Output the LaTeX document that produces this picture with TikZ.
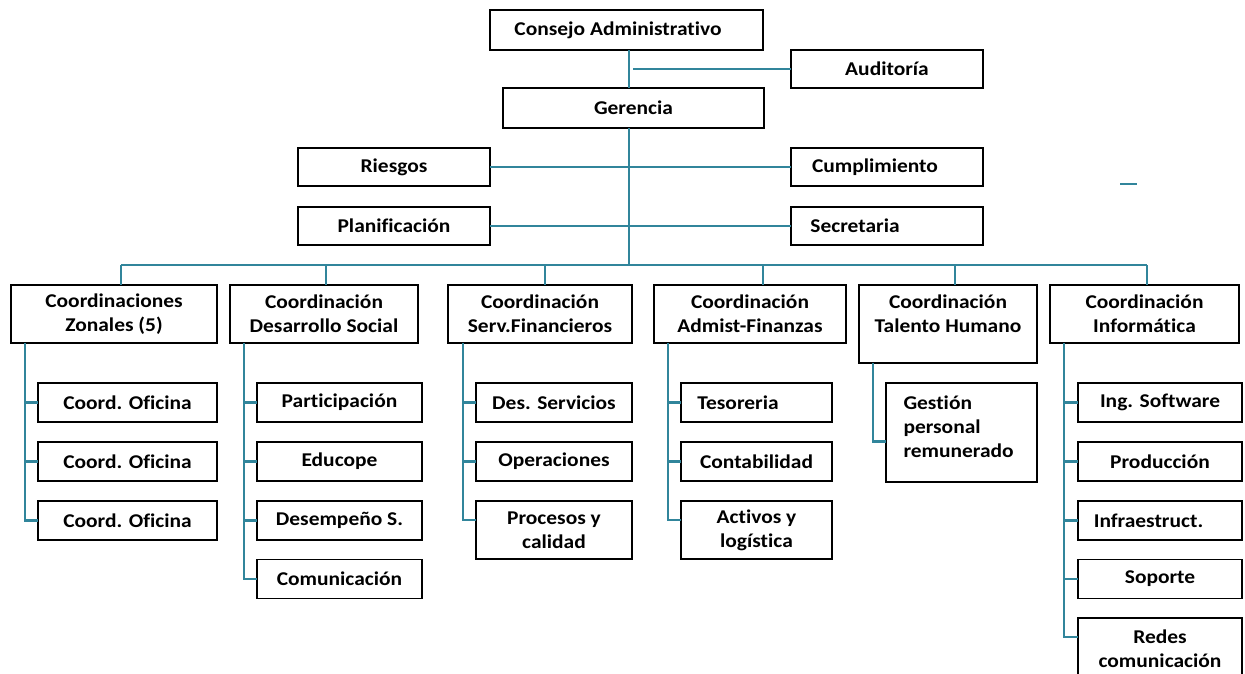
\documentclass[tikz,border=0pt]{standalone}
\usepackage{fontspec}
\setmainfont{Carlito}[Ligatures=NoCommon, FakeStretch=1.1]
\definecolor{lineblue}{RGB}{49,133,155}
\begin{document}
\begin{tikzpicture}[x=1pt,y=-1pt,
  box/.style={draw=black, line width=1.6pt, rectangle, inner sep=0pt, outer sep=0pt,
    font=\bfseries\fontsize{19.5}{24}\selectfont, align=center},
  conn/.style={draw=lineblue, line width=2.2pt},
]
\useasboundingbox (0,0) rectangle (1245,673);
% top levels
\node[box, minimum width=273pt, minimum height=40pt] (consejo) at (626.5,30) {Consejo Administrativo\hspace*{17pt}};
\node[box, minimum width=192pt, minimum height=38pt] (audit) at (887,69) {Auditoría};
\node[box, minimum width=261pt, minimum height=40pt] (geren) at (633.5,108) {Gerencia};
\node[box, minimum width=192pt, minimum height=38pt] (riesgos) at (394,167) {Riesgos};
\node[box, minimum width=192pt, minimum height=38pt] (cumpl) at (887,167) {Cumplimiento\hspace*{24pt}};
\node[box, minimum width=192pt, minimum height=38pt] (plan) at (394,226) {Planificación};
\node[box, minimum width=192pt, minimum height=38pt] (secr) at (887,226) {Secretaria\hspace*{64pt}};
% coordinations
\node[box, minimum width=206pt, minimum height=58pt] (zon) at (114,314) {Coordinaciones\\Zonales (5)};
\node[box, minimum width=188pt, minimum height=58pt] (des) at (324,314) {Coordinación\\Desarrollo Social};
\node[box, minimum width=184pt, minimum height=58pt] (ser) at (540,314) {Coordinación\\Serv.Financieros};
\node[box, minimum width=192pt, minimum height=58pt] (adm) at (750,314) {Coordinación\\Admist-Finanzas};
\node[box, minimum width=178pt, minimum height=78pt, text depth=20pt] (tal) at (948,324) {Coordinación\\Talento Humano};
\node[box, minimum width=189pt, minimum height=58pt] (inf) at (1144.5,314) {Coordinación\\Informática};
% zonal children
\node[box, minimum width=179pt, minimum height=39pt] (z1) at (127.5,402.5) {Coord. Oficina};
\node[box, minimum width=179pt, minimum height=39pt] (z2) at (127.5,461.5) {Coord. Oficina};
\node[box, minimum width=179pt, minimum height=39pt] (z3) at (127.5,520.5) {Coord. Oficina};
% desarrollo children
\node[box, minimum width=165pt, minimum height=39pt] (d1) at (339.5,402.5) {Participación};
\node[box, minimum width=165pt, minimum height=39pt] (d2) at (339.5,461.5) {Educope};
\node[box, minimum width=165pt, minimum height=39pt] (d3) at (339.5,520.5) {Desempeño S.};
\node[box, minimum width=165pt, minimum height=39pt] (d4) at (339.5,579) {Comunicación};
% servicios children
\node[box, minimum width=156pt, minimum height=39pt] (s1) at (554,402.5) {Des. Servicios};
\node[box, minimum width=156pt, minimum height=39pt] (s2) at (554,461.5) {Operaciones};
\node[box, minimum width=156pt, minimum height=58pt] (s3) at (554,530) {Procesos y\\calidad};
% admin children
\node[box, minimum width=151pt, minimum height=39pt] (a1) at (756.5,402.5) {Tesoreria\hspace*{37pt}};
\node[box, minimum width=151pt, minimum height=39pt] (a2) at (756.5,461.5) {Contabilidad};
\node[box, minimum width=151pt, minimum height=58pt] (a3) at (756.5,530) {Activos y\\logística};
% talento child
\node[box, minimum width=151pt, minimum height=99pt, text width=116pt, align=left] (t1) at (961.5,432.5) {Gestión\\personal\\remunerado\\[-12pt]\mbox{}};
% informatica children
\node[box, minimum width=164pt, minimum height=39pt] (i1) at (1160,402.5) {Ing. Software};
\node[box, minimum width=164pt, minimum height=39pt] (i2) at (1160,461.5) {Producción};
\node[box, minimum width=164pt, minimum height=39pt] (i3) at (1160,520.5) {Infraestruct.\hspace*{23pt}};
\node[box, minimum width=164pt, minimum height=39pt] (i4) at (1160,579) {Soporte};
\node[box, minimum width=164pt, minimum height=62pt] (i5) at (1160,649) {Redes\\comunicación};
% connectors
\coordinate (trunk) at (629,265);
\draw[conn] (consejo.south -| trunk) -- (geren.north -| trunk);
\draw[conn] ([xshift=4pt]trunk |- audit.west) -- (audit.west);
\draw[conn] (geren.south -| trunk) -- (trunk);
\draw[conn] (riesgos.east) -- (cumpl.west);
\draw[conn] (plan.east) -- (secr.west);
\coordinate (bz) at (121,265);
\coordinate (bd) at (326,265);
\coordinate (bs) at (545,265);
\coordinate (ba) at (763,265);
\coordinate (bt) at (955,265);
\coordinate (bi) at (1147,265);
\draw[conn] (bz) -- (bi);
\foreach \b/\n in {bz/zon,bd/des,bs/ser,ba/adm,bt/tal,bi/inf}
  \draw[conn] (\b) -- (\n.north -| \b);
% child trees
\coordinate (vz) at (25,343);
\draw[conn] (vz) |- (z3.west);
\draw[conn] (vz |- z1.west) -- (z1.west);
\draw[conn] (vz |- z2.west) -- (z2.west);
\coordinate (vd) at (244,343);
\draw[conn] (vd) |- (d4.west);
\foreach \n in {d1,d2,d3} \draw[conn] (vd |- \n.west) -- (\n.west);
\coordinate (vs) at (463,343);
\draw[conn] (vs) |- ([yshift=10pt]s3.west);
\foreach \n in {s1,s2} \draw[conn] (vs |- \n.west) -- (\n.west);
\coordinate (va) at (668,343);
\draw[conn] (va) |- ([yshift=10pt]a3.west);
\foreach \n in {a1,a2} \draw[conn] (va |- \n.west) -- (\n.west);
\coordinate (vt) at (873,363);
\draw[conn] (vt) |- ([yshift=-9pt]t1.west);
\coordinate (vi) at (1064,343);
\draw[conn] (vi) |- ([yshift=12pt]i5.west);
\foreach \n in {i1,i2,i3,i4} \draw[conn] (vi |- \n.west) -- (\n.west);
% stray dash
\coordinate (dashL) at (1120,184);
\coordinate (dashR) at (1137,184);
\draw[conn] (dashL) -- (dashR);
\end{tikzpicture}
\end{document}
